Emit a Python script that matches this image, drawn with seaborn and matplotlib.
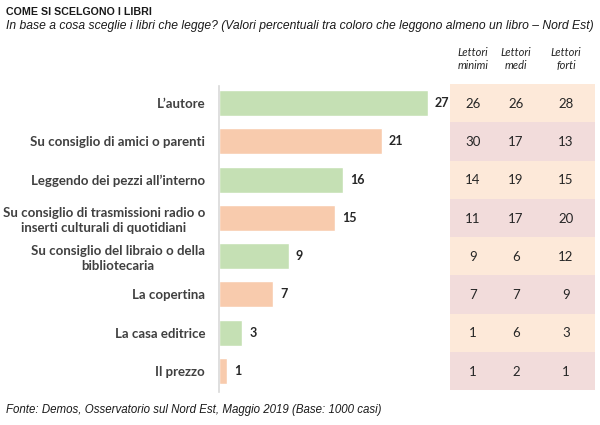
import matplotlib
matplotlib.use("Agg")
import matplotlib.pyplot as plt
import seaborn as sns
import pandas as pd

categories = [
    "L\u2019autore",
    "Su consiglio di amici o parenti",
    "Leggendo dei pezzi all\u2019interno",
    "Su consiglio di trasmissioni radio o\ninserti culturali di quotidiani",
    "Su consiglio del libraio o della\nbibliotecaria",
    "La copertina",
    "La casa editrice",
    "Il prezzo",
]
totale = [27, 21, 16, 15, 9, 7, 3, 1]
lettori_minimi = [26, 30, 14, 11, 9, 7, 1, 1]
lettori_medi = [26, 17, 19, 17, 6, 7, 6, 2]
lettori_forti = [28, 13, 15, 20, 12, 9, 3, 1]
col_headers = ["Lettori\nminimi", "Lettori\nmedi", "Lettori\nforti"]

title = "COME SI SCELGONO I LIBRI"
subtitle = ("In base a cosa sceglie i libri che legge? (Valori percentuali tra coloro "
            "che leggono almeno un libro \u2013 Nord Est)")
footer = "Fonte: Demos, Osservatorio sul Nord Est, Maggio 2019 (Base: 1000 casi)"

sns.set_theme(style="white")
plt.rcParams["font.family"] = ["Lato", "DejaVu Sans"]

W, H = 600, 425
fig = plt.figure(figsize=(W / 100, H / 100), dpi=100)
fig.patch.set_facecolor("white")

def px_axes(x0, y0, x1, y1):
    return fig.add_axes([x0 / W, 1 - y1 / H, (x1 - x0) / W, (y1 - y0) / H])

green = "#c5e0b4"
orange = "#f8cbad"
palette = [green if i % 2 == 0 else orange for i in range(len(categories))]

df = pd.DataFrame({"cat": categories, "val": totale})

ax = px_axes(219, 84, 445, 390)
sns.barplot(data=df, x="val", y="cat", hue="cat", palette=palette, legend=False,
            orient="h", width=0.68, ax=ax, saturation=1)
ax.set_xlim(0, 226 / 7.74)
ax.set_ylim(len(categories) - 0.5, -0.5)
for s in ["top", "right", "bottom"]:
    ax.spines[s].set_visible(False)
ax.spines["left"].set_color("#d9d9d9")
ax.spines["left"].set_linewidth(1.2)
ax.spines["left"].set_bounds(-0.45, len(categories) - 0.45)
ax.set_xticks([])
ax.set_xlabel("")
ax.set_ylabel("")
ax.tick_params(axis="y", length=0, pad=10)
ax.set_yticks(range(len(categories)))
ax.set_yticklabels(categories, fontsize=9.5, fontweight="bold", color="#404040",
                   ha="right", multialignment="center", linespacing=1.3)
for i, v in enumerate(totale):
    ax.text(v + 0.9, i, str(v), va="center", ha="left", fontsize=9,
            fontweight="bold", color="#262626")

# table
tab = px_axes(450, 84, 595, 390)
tab.set_xlim(450, 595)
tab.set_ylim(len(categories) - 0.5, -0.5)
tab.axis("off")
row_colors = ["#fde9d9", "#f2dcdb"]
for i in range(len(categories)):
    tab.axhspan(i - 0.5, i + 0.5, color=row_colors[i % 2], lw=0)
col_x = [473, 516, 566]
for j, vals in enumerate([lettori_minimi, lettori_medi, lettori_forti]):
    for i, v in enumerate(vals):
        tab.text(col_x[j], i + 0.02, str(v), ha="center", va="center",
                 fontsize=9.5, color="#262626")
    fig.text(col_x[j] / W, 1 - 59 / H, col_headers[j], ha="center", va="center",
             fontsize=8, style="italic", color="#262626", linespacing=1.25)

fig.text(6 / W, 1 - 12 / H, title, ha="left", va="center", fontsize=7.7,
         fontweight="bold", color="#1a1a1a", family=["Liberation Sans", "DejaVu Sans"])
fig.text(6 / W, 1 - 26 / H, subtitle, ha="left", va="center", fontsize=8.7,
         style="italic", color="#1a1a1a", family=["Liberation Sans", "DejaVu Sans"])
fig.text(6 / W, 1 - 410 / H, footer, ha="left", va="center", fontsize=8.3,
         style="italic", color="#1a1a1a", family=["Liberation Sans", "DejaVu Sans"])

fig.savefig("out.png", dpi=100, facecolor="white")
